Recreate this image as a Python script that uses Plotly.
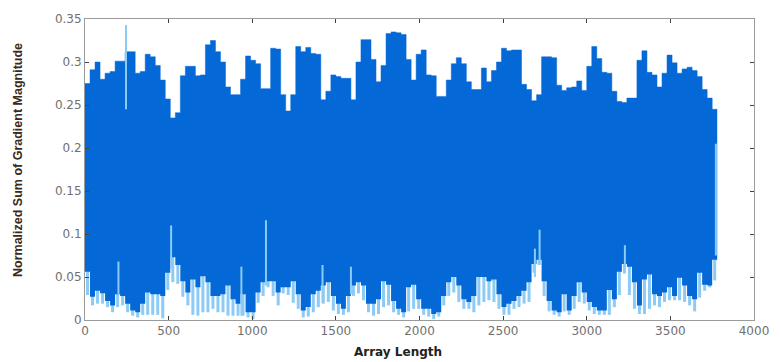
import plotly.graph_objects as go

# ---- data (one value per block of 30 samples) ----
BLOCK = 30
upper = [0.275, 0.291, 0.300, 0.280, 0.287, 0.289, 0.301, 0.301, 0.312, 0.312,
         0.287, 0.289, 0.309, 0.306, 0.296, 0.279, 0.257, 0.235, 0.241, 0.284,
         0.295, 0.295, 0.284, 0.285, 0.320, 0.325, 0.312, 0.300, 0.271, 0.262,
         0.262, 0.280, 0.307, 0.302, 0.298, 0.269, 0.269, 0.316, 0.315, 0.262,
         0.243, 0.262, 0.318, 0.312, 0.317, 0.310, 0.309, 0.256, 0.266, 0.285,
         0.283, 0.281, 0.281, 0.256, 0.300, 0.326, 0.326, 0.303, 0.277, 0.296,
         0.333, 0.335, 0.334, 0.332, 0.303, 0.279, 0.309, 0.314, 0.285, 0.284,
         0.260, 0.260, 0.279, 0.298, 0.305, 0.298, 0.277, 0.268, 0.268, 0.293,
         0.277, 0.290, 0.300, 0.316, 0.313, 0.314, 0.314, 0.274, 0.268, 0.255,
         0.262, 0.306, 0.306, 0.305, 0.273, 0.267, 0.270, 0.271, 0.278, 0.267,
         0.295, 0.318, 0.304, 0.288, 0.287, 0.266, 0.254, 0.253, 0.258, 0.258,
         0.302, 0.313, 0.288, 0.285, 0.271, 0.287, 0.308, 0.299, 0.287, 0.292,
         0.294, 0.290, 0.283, 0.268, 0.258, 0.245]

dark_low = [0.056, 0.027, 0.034, 0.031, 0.022, 0.017, 0.030, 0.028, 0.019, 0.011,
            0.009, 0.019, 0.032, 0.030, 0.030, 0.028, 0.055, 0.073, 0.064, 0.045,
            0.032, 0.047, 0.038, 0.051, 0.044, 0.028, 0.028, 0.030, 0.040, 0.024,
            0.019, 0.030, 0.009, 0.009, 0.032, 0.044, 0.045, 0.045, 0.032, 0.038,
            0.038, 0.045, 0.030, 0.011, 0.015, 0.030, 0.034, 0.040, 0.044, 0.028,
            0.019, 0.013, 0.028, 0.040, 0.044, 0.040, 0.019, 0.019, 0.024, 0.045,
            0.041, 0.022, 0.013, 0.009, 0.038, 0.041, 0.024, 0.013, 0.013, 0.007,
            0.009, 0.028, 0.044, 0.050, 0.040, 0.024, 0.021, 0.028, 0.050, 0.050,
            0.045, 0.047, 0.030, 0.015, 0.019, 0.022, 0.028, 0.034, 0.044, 0.065,
            0.070, 0.045, 0.022, 0.011, 0.009, 0.030, 0.011, 0.028, 0.044, 0.032,
            0.021, 0.015, 0.011, 0.011, 0.035, 0.024, 0.056, 0.065, 0.062, 0.044,
            0.017, 0.047, 0.053, 0.030, 0.028, 0.032, 0.038, 0.028, 0.049, 0.040,
            0.028, 0.024, 0.055, 0.041, 0.040, 0.070]

light_low = [0.029, 0.017, 0.019, 0.019, 0.015, 0.009, 0.015, 0.017, 0.009, 0.005,
             0.003, 0.006, 0.006, 0.006, 0.006, 0.002, 0.035, 0.044, 0.042, 0.027,
             0.017, 0.006, 0.005, 0.009, 0.009, 0.013, 0.009, 0.009, 0.005, 0.005,
             0.005, 0.005, 0.003, 0.001, 0.020, 0.028, 0.038, 0.028, 0.017, 0.031,
             0.029, 0.020, 0.013, 0.003, 0.004, 0.009, 0.015, 0.019, 0.021, 0.011,
             0.007, 0.006, 0.009, 0.028, 0.031, 0.023, 0.009, 0.005, 0.007, 0.015,
             0.017, 0.009, 0.006, 0.003, 0.010, 0.013, 0.013, 0.006, 0.004, 0.001,
             0.004, 0.017, 0.028, 0.032, 0.021, 0.013, 0.013, 0.009, 0.017, 0.021,
             0.023, 0.021, 0.013, 0.006, 0.006, 0.013, 0.015, 0.019, 0.021, 0.055,
             0.064, 0.028, 0.010, 0.006, 0.004, 0.010, 0.006, 0.013, 0.021, 0.019,
             0.011, 0.007, 0.006, 0.006, 0.006, 0.015, 0.029, 0.054, 0.029, 0.013,
             0.007, 0.007, 0.013, 0.017, 0.015, 0.021, 0.023, 0.023, 0.023, 0.021,
             0.017, 0.010, 0.026, 0.034, 0.038, 0.046]

# isolated thin spikes (sample index, bottom value, top value)
spike_x = [200, 245, 515, 935, 1082, 1420, 1590, 2690, 2718, 3228, 3772]
spike_lo = [0.030, 0.245, 0.060, 0.005, 0.040, 0.020, 0.030, 0.050, 0.064, 0.055, 0.075]
spike_hi = [0.068, 0.343, 0.110, 0.062, 0.116, 0.064, 0.062, 0.083, 0.105, 0.087, 0.205]

x_ticks = [0, 500, 1000, 1500, 2000, 2500, 3000, 3500, 4000]
y_ticks = [0, 0.05, 0.1, 0.15, 0.2, 0.25, 0.3, 0.35]
y_tick_text = ["0", "0.05", "0.1", "0.15", "0.2", "0.25", "0.3", "0.35"]

DARK = "#0468d6"
LIGHT = "#8ccbf6"

n = len(upper)
centers = [BLOCK * i + BLOCK / 2 for i in range(n)]
edges = [BLOCK * i for i in range(n + 1)]

fig = go.Figure()

# light blue fringe under the dense part (bar layer, drawn beneath)
fig.add_trace(go.Bar(
    x=centers,
    base=light_low,
    y=[d - l + 0.004 for d, l in zip(dark_low, light_low)],
    width=18,
    marker=dict(color=LIGHT, line=dict(width=0)),
    hoverinfo="skip",
))

# dense dark blue body: filled between two step lines
fig.add_trace(go.Scatter(
    x=edges, y=dark_low + [dark_low[-1]], mode="lines", line_shape="hv",
    line=dict(width=0, color=DARK), hoverinfo="skip",
))
fig.add_trace(go.Scatter(
    x=edges, y=upper + [upper[-1]], mode="lines", line_shape="hv",
    line=dict(width=0.5, color=DARK), fill="tonexty", fillcolor=DARK,
    hoverinfo="skip",
))

# thin light spikes drawn over the body
sx, sy = [], []
for xv, lo, hi in zip(spike_x, spike_lo, spike_hi):
    sx += [xv, xv, None]
    sy += [lo, hi, None]
fig.add_trace(go.Scatter(
    x=sx, y=sy, mode="lines", line=dict(width=2, color=LIGHT), hoverinfo="skip",
))

axis_common = dict(
    showline=True, linecolor="#9a9a9a", linewidth=1, mirror="ticks",
    ticks="inside", ticklen=4, tickcolor="#444444", tickwidth=1,
    showgrid=False, zeroline=False,
    tickfont=dict(family="DejaVu Sans", size=12, color="#707070"),
)

W, H = 781, 362
pl, pr, pt, pb = 85, 23, 16, 42
pw, ph = W - pl - pr, H - pt - pb

fig.update_layout(
    width=W, height=H,
    margin=dict(l=pl, r=pr, t=pt, b=pb),
    paper_bgcolor="white", plot_bgcolor="white",
    barmode="overlay", showlegend=False,
    xaxis=dict(range=[0, 4000], tickvals=x_ticks, **axis_common),
    yaxis=dict(range=[0, 0.35], tickvals=y_ticks, ticktext=y_tick_text, **axis_common),
    annotations=[
        dict(text="<b>Array Length</b>", xref="paper", yref="paper",
             x=(400 - pl) / pw, y=-(352 - (H - pb)) / ph,
             xanchor="center", yanchor="middle", showarrow=False,
             font=dict(family="DejaVu Sans", size=12, color="#222222")),
        dict(text="<b>Normalized Sum of Gradient Magnitude</b>", textangle=-90,
             xref="paper", yref="paper",
             x=-(pl - 17) / pw, y=1 - (158 - pt) / ph,
             xanchor="center", yanchor="middle", showarrow=False,
             font=dict(family="Liberation Sans", size=12.5, color="#3a2a1a")),
    ],
)

fig.write_html("out.html")
